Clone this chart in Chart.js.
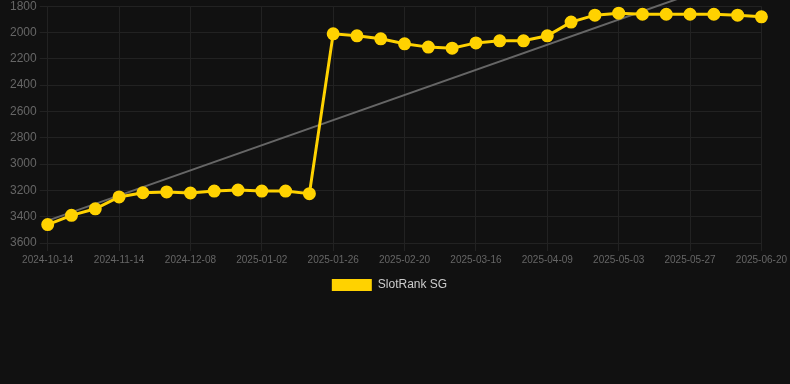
<!DOCTYPE html>
<html>
<head>
 <title>SlotRank SG</title>
 <script src="https://cdn.jsdelivr.net/npm/chart.js"></script>
 <style>
  body { margin: 0; background: #111111; font-family: Arial, "Liberation Sans", sans-serif; overflow: hidden; }
  #chart-container { width: 790px; height: 305px; margin-top: -4px; }
 </style>
</head>
<body>
 <div id="chart-container">
  <canvas id="rankChart"></canvas>
 </div>

 <script>
  // dates (only every third one shows up as a tick)
  const dates = [
   '2024-10-14', '2024-10-24', '2024-11-04', '2024-11-14', '2024-11-22', '2024-11-30',
   '2024-12-08', '2024-12-16', '2024-12-24', '2025-01-02', '2025-01-10', '2025-01-18',
   '2025-01-26', '2025-02-03', '2025-02-11', '2025-02-20', '2025-02-28', '2025-03-08',
   '2025-03-16', '2025-03-24', '2025-04-01', '2025-04-09', '2025-04-17', '2025-04-25',
   '2025-05-03', '2025-05-11', '2025-05-19', '2025-05-27', '2025-06-04', '2025-06-12',
   '2025-06-20'
  ];

  // rank values
  const rank = [
   3460, 3390, 3340, 3250, 3218, 3212, 3220, 3205, 3197, 3205, 3205, 3225,
   2010, 2025, 2048, 2086, 2111, 2119, 2079, 2063, 2063, 2025, 1921, 1868,
   1853, 1861, 1861, 1861, 1861, 1868, 1881
  ];

  // trend line: start and end only
  const trend = dates.map(() => null);
  trend[0] = 3430;
  trend[dates.length - 1] = 1520;

  const yTicks = [1800, 2000, 2200, 2400, 2600, 2800, 3000, 3200, 3400, 3600];

  const ctx = document.getElementById('rankChart').getContext('2d');
  const chart = new Chart(ctx, {
   type: 'line',
   data: {
    labels: dates,
    datasets: [{
     label: 'SlotRank SG',
     data: rank,
     borderColor: '#FFD200',
     backgroundColor: '#FFD200',
     borderWidth: 3,
     pointRadius: 5,
     pointBackgroundColor: '#FFD200',
     pointBorderColor: '#FFD200',
     tension: 0,
     fill: false,
     order: 1
    }, {
     label: 'trend',
     data: trend,
     borderColor: '#666666',
     borderWidth: 2,
     pointRadius: 0,
     spanGaps: true,
     fill: false,
     clip: 8,
     order: 2
    }]
   },
   options: {
    responsive: true,
    maintainAspectRatio: false,
    animation: false,
    layout: { padding: { left: 7, right: 18 } },
    plugins: {
     tooltip: { enabled: false },
     legend: {
      position: 'bottom',
      labels: {
       color: '#cccccc',
       font: { size: 12, family: 'Arial' },
       boxWidth: 40,
       boxHeight: 12,
       filter: item => item.text !== 'trend',
       generateLabels: c => Chart.defaults.plugins.legend.labels.generateLabels(c)
        .map(l => Object.assign(l, { lineWidth: 0 }))
      }
     }
    },
    scales: {
     y: {
      reverse: true,
      min: 1800,
      max: 3600,
      afterBuildTicks: axis => { axis.ticks = yTicks.map(v => ({ value: v })); },
      grid: { color: '#222222' },
      border: { display: false },
      ticks: {
       color: '#666666',
       font: { size: 12, family: 'Arial' },
       callback: v => String(v)
      }
     },
     x: {
      grid: { color: '#222222' },
      border: { display: false },
      ticks: {
       color: '#666666',
       font: { size: 10, family: 'Arial' },
       autoSkip: true,
       maxTicksLimit: 11,
       maxRotation: 0
      }
     }
    }
   }
  });
 </script>
</body>
</html>
